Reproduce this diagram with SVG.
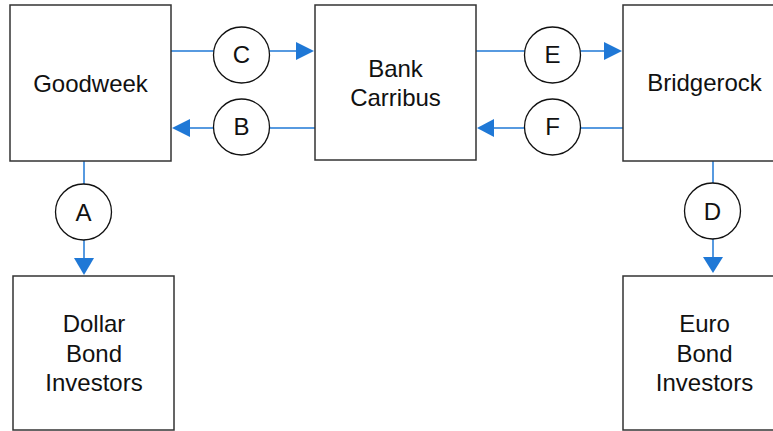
<svg xmlns="http://www.w3.org/2000/svg" width="773" height="431" viewBox="0 0 773 431">
<style>
.box{fill:#fff;stroke:#333;stroke-width:1.5}
.lbl{font-family:"Liberation Sans",Arial,sans-serif;font-size:24px;fill:#111;text-anchor:middle}
.ln{stroke:#1f78d6;stroke-width:1.5;fill:none}
.ah{fill:#1f78d6}
.cir{fill:#fff;stroke:#111;stroke-width:1.3}
</style>
<rect width="773" height="431" fill="#fff"/>
<g id="connectors">
<line class="ln" x1="171" y1="51" x2="297" y2="51"/>
<polygon class="ah" points="314,51 296,42 296,60"/>
<line class="ln" x1="315" y1="128" x2="188" y2="128"/>
<polygon class="ah" points="172,128 190,119 190,137"/>
<line class="ln" x1="476" y1="51" x2="605" y2="51"/>
<polygon class="ah" points="622,51 604,42 604,60"/>
<line class="ln" x1="623" y1="128" x2="493" y2="128"/>
<polygon class="ah" points="477,128 494,119 494,137"/>
<line class="ln" x1="84" y1="161" x2="84" y2="259"/>
<polygon class="ah" points="84,275 74,258 94,258"/>
<line class="ln" x1="713" y1="161" x2="713" y2="258"/>
<polygon class="ah" points="713,273 703,257 723,257"/>
<g id="lC"><circle class="cir" cx="241.5" cy="55" r="28"/><text class="lbl" x="241.5" y="63">C</text></g>
<g id="lB"><circle class="cir" cx="241.5" cy="127" r="28"/><text class="lbl" x="241.5" y="135">B</text></g>
<g id="lE"><circle class="cir" cx="552.5" cy="55" r="28"/><text class="lbl" x="552.5" y="63">E</text></g>
<g id="lF"><circle class="cir" cx="552.5" cy="127" r="28"/><text class="lbl" x="552.5" y="135">F</text></g>
<g id="lA"><circle class="cir" cx="83.5" cy="212" r="28"/><text class="lbl" x="83.5" y="220.5">A</text></g>
<g id="lD"><circle class="cir" cx="712.5" cy="211" r="28"/><text class="lbl" x="712.5" y="219.5">D</text></g>
</g>
<g id="goodweek"><rect class="box" x="10" y="5" width="161" height="156"/><text class="lbl" x="90.5" y="92">Goodweek</text></g>
<g id="bank"><rect class="box" x="315" y="5" width="161" height="155"/><text class="lbl" x="395.5" y="77">Bank</text><text class="lbl" x="395.5" y="106">Carribus</text></g>
<g id="bridgerock"><rect class="box" x="623" y="5" width="163" height="156"/><text class="lbl" x="704.5" y="91">Bridgerock</text></g>
<g id="dollar"><rect class="box" x="13" y="276" width="161" height="154"/><text class="lbl" x="94" y="332">Dollar</text><text class="lbl" x="94" y="362">Bond</text><text class="lbl" x="94" y="391">Investors</text></g>
<g id="euro"><rect class="box" x="623" y="276" width="163" height="154"/><text class="lbl" x="704.5" y="332">Euro</text><text class="lbl" x="704.5" y="362">Bond</text><text class="lbl" x="704.5" y="391">Investors</text></g>
</svg>
